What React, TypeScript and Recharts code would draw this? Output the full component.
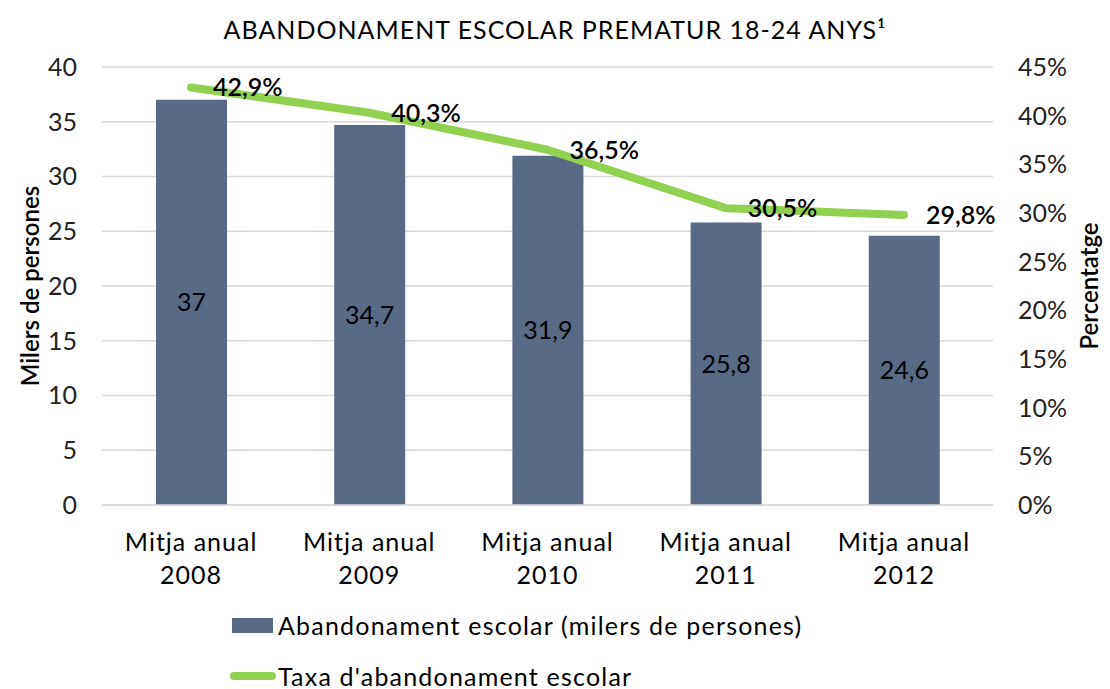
import React from 'react';
import { ComposedChart, Bar, Line, XAxis, YAxis, CartesianGrid, Legend, LabelList } from 'recharts';

const categories = ['Mitja anual 2008', 'Mitja anual 2009', 'Mitja anual 2010', 'Mitja anual 2011', 'Mitja anual 2012'];
const dropoutThousands = [37, 34.7, 31.9, 25.8, 24.6];
const dropoutRate = [0.429, 0.403, 0.365, 0.305, 0.298];
const leftTicks = [0, 5, 10, 15, 20, 25, 30, 35, 40];
const rightTicks = [0, 0.05, 0.1, 0.15, 0.2, 0.25, 0.3, 0.35, 0.4, 0.45];

const title = 'ABANDONAMENT ESCOLAR PREMATUR 18-24 ANYS\u00B9';
const barName = 'Abandonament escolar (milers de persones)';
const lineName = "Taxa d'abandonament escolar";
const leftLabel = 'Milers de persones';
const rightLabel = 'Percentatge';

const data = categories.map((c, i) => ({ cat: c, abandon: dropoutThousands[i], taxa: dropoutRate[i] }));

const FONT = 'Lato, "Open Sans", sans-serif';
const BAR_COLOR = '#596A85';
const LINE_COLOR = '#92D050';

const fmtNum = (v: number) => String(v).replace('.', ',');
const fmtPct = (v: number) => (v * 100).toFixed(1).replace('.', ',') + '%';
const fmtPctTick = (v: number) => Math.round(v * 100) + '%';

const XTick = (props: any) => {
  const { x, y, payload } = props;
  const s = String(payload.value);
  const idx = s.lastIndexOf(' ');
  const l1 = s.slice(0, idx);
  const l2 = s.slice(idx + 1);
  return (
    <text x={x} y={y} textAnchor="middle" fill="#000" fontSize={25} fontFamily={FONT} letterSpacing={1}>
      <tspan x={x} dy={44}>{l1}</tspan>
      <tspan x={x} dy={33}>{l2}</tspan>
    </text>
  );
};

const LegendContent = (props: any) => {
  const payload = props.payload || [];
  const bar = payload.find((p: any) => p.dataKey === 'abandon');
  const line = payload.find((p: any) => p.dataKey === 'taxa');
  return (
    <div style={{ position: 'relative', height: 104, width: 1110, fontFamily: FONT, fontSize: 25, letterSpacing: 1.2, color: '#000', lineHeight: '24px' }}>
      {bar && (
        <div style={{ position: 'absolute', left: 232, top: 28, height: 24, display: 'flex', alignItems: 'center' }}>
          <div style={{ width: 41, height: 15, background: BAR_COLOR, marginRight: 5 }} />
          <span>{bar.value}</span>
        </div>
      )}
      {line && (
        <div style={{ position: 'absolute', left: 230, top: 79, height: 24, display: 'flex', alignItems: 'center' }}>
          <div style={{ width: 46, height: 8, borderRadius: 4, background: LINE_COLOR, marginRight: 2 }} />
          <span>{line.value}</span>
        </div>
      )}
    </div>
  );
};

export default function App() {
  return (
    <div style={{ position: 'absolute', left: 0, top: 0, width: 1110, height: 689, background: '#fff' }}>
      <div style={{ position: 'absolute', left: 0, top: 15, width: 1110, textAlign: 'center', fontFamily: FONT, fontSize: 25, letterSpacing: 1, lineHeight: '28px', color: '#000' }}>
        {title}
      </div>
      <ComposedChart width={1110} height={689} data={data} margin={{ top: 67, right: 0, bottom: 0, left: 0 }} barCategoryGap="30%">
        <CartesianGrid yAxisId="left" vertical={false} stroke="#D9D9D9" strokeWidth={1.5} />
        <XAxis dataKey="cat" height={80} tick={<XTick />} tickLine={false} axisLine={{ stroke: '#D9D9D9', strokeWidth: 1.5 }} tickSize={0} interval={0} />
        <YAxis yAxisId="left" orientation="left" width={102} domain={[0, 40]} ticks={leftTicks} tickFormatter={fmtNum}
          axisLine={false} tickLine={false} tickSize={0} tickMargin={25}
          tick={{ fill: '#222', fontSize: 25, fontFamily: FONT }}
          label={{ value: leftLabel, angle: -90, position: 'center', dx: -21, style: { fill: '#000', fontSize: 24, fontFamily: FONT, fontWeight: 600, textAnchor: 'middle' } }} />
        <YAxis yAxisId="right" orientation="right" width={117} domain={[0, 0.45]} ticks={rightTicks} tickFormatter={fmtPctTick}
          axisLine={false} tickLine={false} tickSize={0} tickMargin={25}
          tick={{ fill: '#222', fontSize: 25, fontFamily: FONT }}
          label={{ value: rightLabel, angle: -90, position: 'center', dx: 38, style: { fill: '#000', fontSize: 24, fontFamily: FONT, fontWeight: 600, textAnchor: 'middle' } }} />
        <Legend verticalAlign="bottom" content={<LegendContent />} />
        <Bar yAxisId="left" dataKey="abandon" name={barName} fill={BAR_COLOR} barSize={71} isAnimationActive={false}>
          <LabelList dataKey="abandon" position="center" formatter={(v: any) => fmtNum(v)} fill="#000" fontSize={25} fontFamily={FONT} />
        </Bar>
        <Line yAxisId="right" dataKey="taxa" name={lineName} stroke={LINE_COLOR} strokeWidth={8} dot={false} activeDot={false}
          strokeLinecap="round" strokeLinejoin="round" isAnimationActive={false}>
          <LabelList dataKey="taxa" position="right" offset={22} formatter={(v: any) => fmtPct(v)} fill="#000" fontSize={25} fontFamily={FONT} fontWeight={600} />
        </Line>
      </ComposedChart>
    </div>
  );
}
